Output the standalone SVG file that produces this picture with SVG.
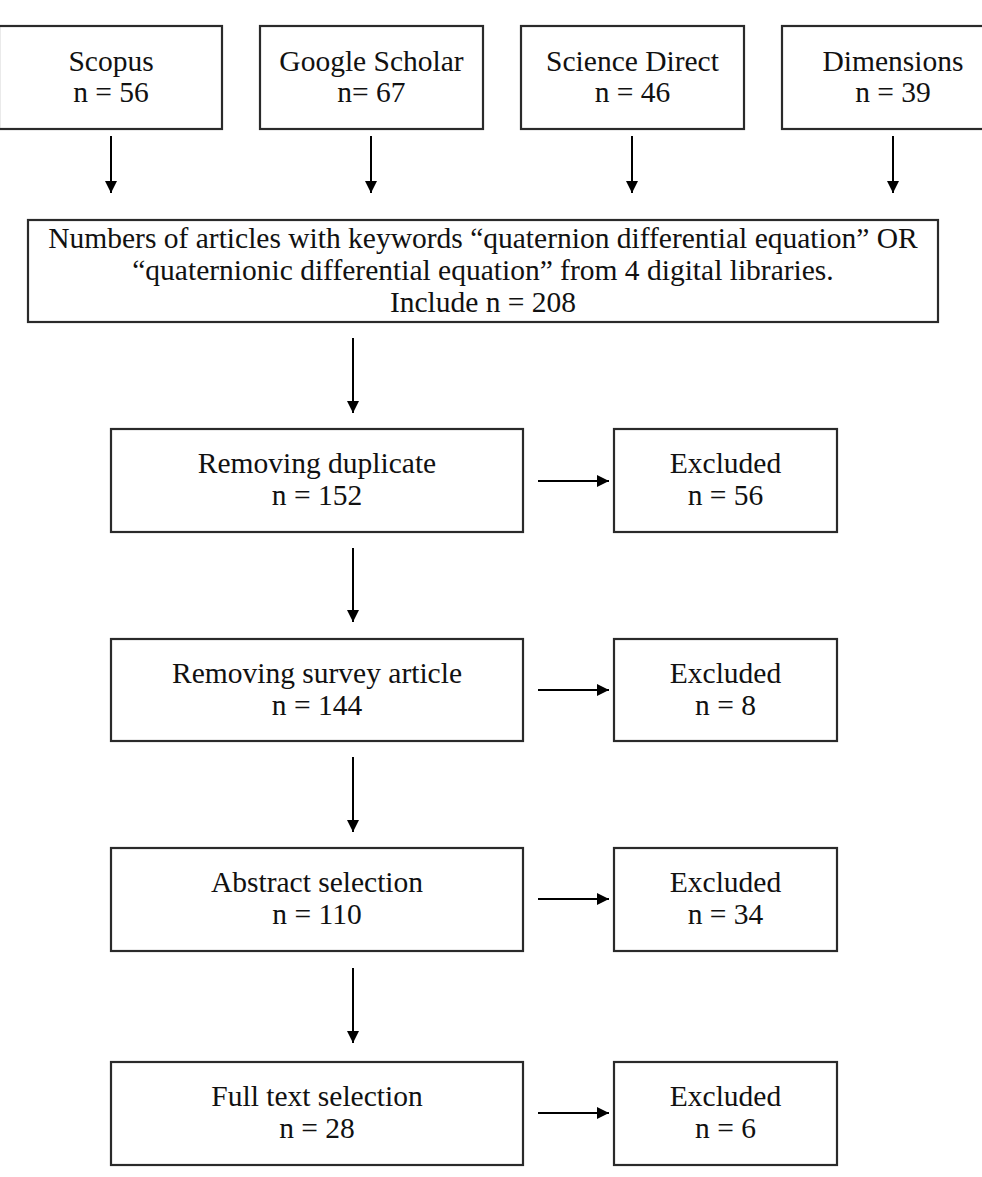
<svg xmlns="http://www.w3.org/2000/svg" width="982" height="1177" viewBox="0 0 982 1177">
<style>
.box{fill:#fff;stroke:#2a2a2a;stroke-width:2.2}
.t{font-family:"Liberation Serif","Times New Roman",serif;font-size:29.5px;fill:#111;text-anchor:middle}
.c{fill:none;stroke:#000;stroke-width:2}
</style>
<defs>
<marker id="ah" markerUnits="userSpaceOnUse" markerWidth="13" markerHeight="13" refX="12" refY="6" orient="auto">
<path d="M0,0 L12,6 L0,12 z" fill="#000"/>
</marker>
</defs>
<rect width="982" height="1177" fill="#fff"/>
<g id="scopus"><rect class="box" x="-1" y="26" width="223" height="103"/><text class="t" x="111" y="71">Scopus</text><text class="t" x="111" y="102">n = 56</text></g>
<g id="google"><rect class="box" x="260" y="26" width="223" height="103"/><text class="t" x="371.5" y="71">Google Scholar</text><text class="t" x="371.5" y="102">n= 67</text></g>
<g id="sciencedirect"><rect class="box" x="521" y="26" width="223" height="103"/><text class="t" x="632.5" y="71">Science Direct</text><text class="t" x="632.5" y="102">n = 46</text></g>
<g id="dimensions"><rect class="box" x="782" y="26" width="223" height="103"/><text class="t" x="893" y="71">Dimensions</text><text class="t" x="893" y="102">n = 39</text></g>
<g id="keywords"><rect class="box" x="28" y="220" width="910" height="102"/>
<text class="t" x="483" y="248">Numbers of articles with keywords “quaternion differential equation” OR</text>
<text class="t" x="483" y="280">“quaternionic differential equation” from 4 digital libraries.</text>
<text class="t" x="483" y="312">Include n = 208</text></g>
<g id="duplicate"><rect class="box" x="111" y="429" width="412" height="103"/><text class="t" x="317" y="473">Removing duplicate</text><text class="t" x="317" y="505">n = 152</text></g>
<g id="excl1"><rect class="box" x="614" y="429" width="223" height="103"/><text class="t" x="725.5" y="473">Excluded</text><text class="t" x="725.5" y="505">n = 56</text></g>
<g id="survey"><rect class="box" x="111" y="639" width="412" height="102"/><text class="t" x="317" y="683">Removing survey article</text><text class="t" x="317" y="715">n = 144</text></g>
<g id="excl2"><rect class="box" x="614" y="639" width="223" height="102"/><text class="t" x="725.5" y="683">Excluded</text><text class="t" x="725.5" y="715">n = 8</text></g>
<g id="abstract"><rect class="box" x="111" y="848" width="412" height="103"/><text class="t" x="317" y="892">Abstract selection</text><text class="t" x="317" y="924">n = 110</text></g>
<g id="excl3"><rect class="box" x="614" y="848" width="223" height="103"/><text class="t" x="725.5" y="892">Excluded</text><text class="t" x="725.5" y="924">n = 34</text></g>
<g id="fulltext"><rect class="box" x="111" y="1062" width="412" height="103"/><text class="t" x="317" y="1106">Full text selection</text><text class="t" x="317" y="1138">n = 28</text></g>
<g id="excl4"><rect class="box" x="614" y="1062" width="223" height="103"/><text class="t" x="725.5" y="1106">Excluded</text><text class="t" x="725.5" y="1138">n = 6</text></g>
<g id="connectors">
<path class="c" d="M111,136 V193" marker-end="url(#ah)"/>
<path class="c" d="M371,136 V193" marker-end="url(#ah)"/>
<path class="c" d="M632,136 V193" marker-end="url(#ah)"/>
<path class="c" d="M893,136 V193" marker-end="url(#ah)"/>
<path class="c" d="M353,338 V413" marker-end="url(#ah)"/>
<path class="c" d="M353,548 V622" marker-end="url(#ah)"/>
<path class="c" d="M353,757 V832" marker-end="url(#ah)"/>
<path class="c" d="M353,968 V1043" marker-end="url(#ah)"/>
<path class="c" d="M538,481 H609" marker-end="url(#ah)"/>
<path class="c" d="M538,690 H609" marker-end="url(#ah)"/>
<path class="c" d="M538,899 H609" marker-end="url(#ah)"/>
<path class="c" d="M538,1113 H609" marker-end="url(#ah)"/>
</g>
</svg>
